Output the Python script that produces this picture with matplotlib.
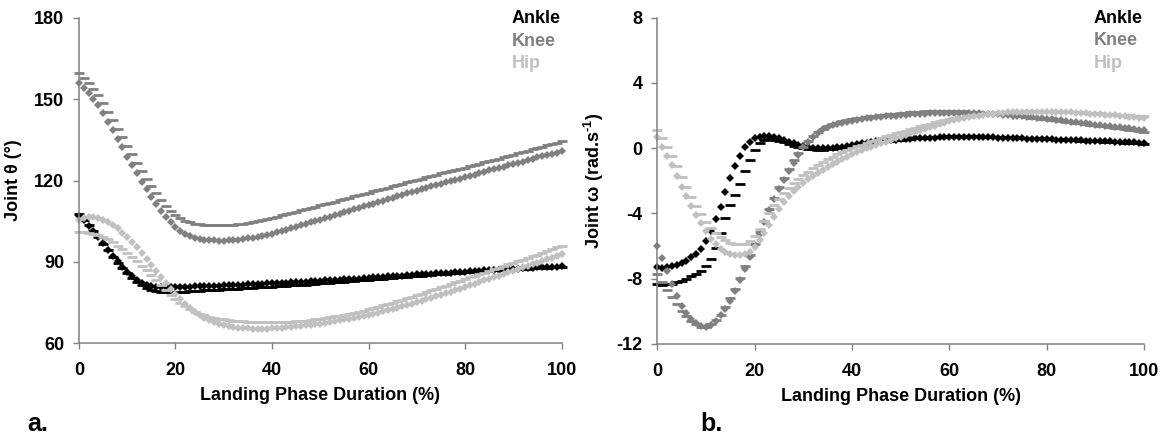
import numpy as np
import matplotlib
matplotlib.use("Agg")
import matplotlib.pyplot as plt

plt.rcParams['font.family'] = ['Liberation Sans', 'DejaVu Sans']
plt.rcParams['font.weight'] = 'bold'
plt.rcParams['mathtext.fontset'] = 'custom'
plt.rcParams['mathtext.rm'] = 'Liberation Sans:bold'
plt.rcParams['mathtext.default'] = 'rm'
plt.rcParams['axes.unicode_minus'] = False

x = np.arange(0, 101)

# ---------------- Panel a: joint angles (deg) ----------------
ankle_a_diam = [107.0, 105.3, 103.3, 101.2, 99.0, 96.8, 94.5, 92.3, 90.2, 88.2, 86.4, 84.8, 83.4, 82.3, 81.5, 81.0, 80.7, 80.5, 80.5, 80.5, 80.6,
                80.7, 80.7, 80.8, 80.9, 80.9, 81.0, 81.1, 81.1, 81.2, 81.3,
                81.4, 81.4, 81.5, 81.6, 81.7, 81.7, 81.8, 81.9, 82.0, 82.1,
                82.2, 82.3, 82.3, 82.4, 82.5, 82.6, 82.7, 82.8, 82.9, 83.0,
                83.1, 83.2, 83.3, 83.4, 83.5, 83.6, 83.7, 83.8, 84.0, 84.1,
                84.2, 84.3, 84.4, 84.6, 84.7, 84.8, 84.9, 85.0, 85.2, 85.3,
                85.4, 85.5, 85.6, 85.7, 85.8, 85.9, 86.0, 86.1, 86.3, 86.4,
                86.5, 86.6, 86.7, 86.8, 86.9, 87.0, 87.1, 87.2, 87.3, 87.4,
                87.5, 87.6, 87.7, 87.8, 87.9, 88.0, 88.1, 88.2, 88.2, 88.3]
ankle_a_dash = [107.5, 105.6, 103.5, 101.3, 99.0, 96.6, 94.2, 91.9, 89.7, 87.6, 85.7, 84.0, 82.5, 81.3, 80.3, 79.6, 79.1, 78.8, 78.7, 78.7, 78.8,
                78.9, 79.0, 79.1, 79.2, 79.3, 79.4, 79.5, 79.6, 79.7, 79.8,
                79.9, 80.0, 80.1, 80.2, 80.3, 80.4, 80.5, 80.6, 80.7, 80.8,
                80.9, 81.0, 81.2, 81.3, 81.4, 81.5, 81.6, 81.8, 81.9, 82.0,
                82.2, 82.3, 82.4, 82.6, 82.7, 82.8, 83.0, 83.1, 83.2, 83.4,
                83.5, 83.7, 83.8, 83.9, 84.1, 84.2, 84.4, 84.5, 84.6, 84.8,
                84.9, 85.0, 85.2, 85.3, 85.4, 85.6, 85.7, 85.8, 85.9, 86.1,
                86.2, 86.3, 86.4, 86.5, 86.7, 86.8, 86.9, 87.0, 87.1, 87.2,
                87.3, 87.4, 87.5, 87.6, 87.7, 87.7, 87.8, 87.9, 88.0, 88.0]
knee_a_diam = [156.0, 154.0, 152.2, 150.0, 147.9, 144.8, 141.7, 138.6, 135.3, 132.3, 128.8, 125.7, 122.7, 119.6, 116.8, 114.0, 111.3,
               108.8, 106.5, 104.5, 102.8, 101.4, 100.3, 99.5, 98.9, 98.5, 98.2, 98.0, 97.9, 97.8, 97.8,
               97.9, 98.0, 98.2, 98.4, 98.6, 98.9, 99.2, 99.6, 100.0, 100.4,
               100.9, 101.4, 101.9, 102.4, 102.9, 103.4, 104.0, 104.5, 105.1, 105.6,
               106.1, 106.7, 107.2, 107.8, 108.3, 108.9, 109.4, 109.9, 110.5, 111.0,
               111.5, 112.1, 112.6, 113.2, 113.7, 114.2, 114.7, 115.3, 115.8, 116.3,
               116.8, 117.3, 117.8, 118.3, 118.8, 119.3, 119.7, 120.2, 120.7, 121.2,
               121.7, 122.2, 122.7, 123.2, 123.7, 124.2, 124.6, 125.1, 125.6, 126.1,
               126.6, 127.0, 127.5, 128.0, 128.5, 129.0, 129.4, 129.9, 130.3, 130.8]
knee_a_dash = [159.8, 158.0, 156.0, 153.8, 151.5, 148.5, 145.4, 142.3, 139.1, 136.0, 132.7, 129.6, 126.5, 123.5, 120.6, 117.9, 115.3,
               112.9, 110.7, 108.8, 107.2, 106.0, 105.1, 104.5, 104.1, 103.8, 103.6, 103.5, 103.4, 103.4, 103.5,
               103.6, 103.7, 103.9, 104.1, 104.4, 104.7, 105.0, 105.4, 105.8, 106.2,
               106.6, 107.1, 107.5, 108.0, 108.5, 109.0, 109.4, 109.9, 110.3, 110.8,
               111.3, 111.8, 112.2, 112.7, 113.2, 113.6, 114.1, 114.6, 115.0, 115.5,
               116.0, 116.5, 116.9, 117.4, 117.9, 118.4, 118.8, 119.3, 119.8, 120.2,
               120.7, 121.2, 121.6, 122.1, 122.6, 123.0, 123.5, 123.9, 124.4, 124.8,
               125.3, 125.8, 126.2, 126.7, 127.2, 127.6, 128.1, 128.6, 129.0, 129.5,
               130.0, 130.5, 131.0, 131.5, 132.0, 132.5, 133.0, 133.5, 134.0, 134.5]
hip_a_diam = [105.5, 106.2, 106.5, 106.5, 106.2, 105.6, 104.7, 103.6, 102.3, 100.8, 99.1, 97.3, 95.3, 93.2, 91.0, 88.8, 86.5, 84.3, 82.1, 80.0, 78.0,
              76.1, 74.4, 72.9, 71.5, 70.3, 69.3, 68.4, 67.7, 67.1, 66.6, 66.2, 65.9, 65.7, 65.5, 65.4, 65.3, 65.3, 65.3, 65.3, 65.4,
              65.5, 65.6, 65.8, 65.9, 66.1, 66.3, 66.5, 66.7, 67.0, 67.2,
              67.5, 67.8, 68.1, 68.4, 68.7, 69.0, 69.3, 69.6, 70.0, 70.4,
              70.8, 71.2, 71.7, 72.1, 72.6, 73.0, 73.5, 74.0, 74.5, 75.0,
              75.6, 76.1, 76.7, 77.2, 77.8, 78.4, 78.9, 79.5, 80.1, 80.7,
              81.3, 81.9, 82.5, 83.1, 83.7, 84.3, 84.9, 85.5, 86.1, 86.7,
              87.3, 87.9, 88.5, 89.1, 89.7, 90.3, 90.9, 91.5, 92.1, 92.7]
hip_a_dash = [101.0, 100.9, 100.7, 100.4, 99.9, 99.2, 98.3, 97.2, 96.0, 94.7, 93.3, 91.8, 90.2, 88.5, 86.8, 85.0, 83.2, 81.4, 79.6, 77.9, 76.3,
              74.8, 73.5, 72.4, 71.5, 70.8, 70.2, 69.7, 69.3, 69.0, 68.7, 68.5, 68.3, 68.1, 68.0, 67.9, 67.8, 67.7, 67.7, 67.7, 67.7,
              67.7, 67.8, 67.8, 67.9, 68.0, 68.2, 68.3, 68.5, 68.7, 68.9,
              69.2, 69.5, 69.8, 70.1, 70.4, 70.8, 71.2, 71.6, 72.0, 72.5,
              72.9, 73.4, 73.9, 74.4, 74.9, 75.4, 75.9, 76.5, 77.0, 77.6,
              78.2, 78.8, 79.4, 80.0, 80.6, 81.2, 81.8, 82.4, 83.0, 83.6,
              84.2, 84.8, 85.4, 86.0, 86.6, 87.2, 87.8, 88.4, 89.0, 89.6,
              90.2, 90.8, 91.4, 92.0, 92.6, 93.2, 93.9, 94.6, 95.3, 96.0]

# ---------------- Panel b: joint angular velocity (rad/s) ----------------
ankle_b_diam = [-7.30, -7.35, -7.30, -7.25, -7.15, -7.05, -6.90, -6.70, -6.50, -6.20, -5.70, -5.05, -4.35, -3.60, -2.70, -1.85, -1.10, -0.45, 0.05, 0.40, 0.60,
                0.70, 0.75, 0.72, 0.68, 0.60, 0.50, 0.40, 0.30, 0.20, 0.12, 0.06, 0.02, 0.00, 0.00, 0.00, 0.02, 0.05, 0.10, 0.15, 0.20,
                0.25, 0.29, 0.33, 0.37, 0.41, 0.44, 0.47, 0.50, 0.52, 0.55, 0.57, 0.59, 0.61, 0.62, 0.63, 0.64, 0.65, 0.66, 0.66, 0.67,
                0.67, 0.67, 0.68, 0.68, 0.68, 0.67, 0.67, 0.66, 0.66, 0.65, 0.64, 0.63, 0.62, 0.61, 0.60, 0.59, 0.58, 0.57, 0.56, 0.55,
                0.54, 0.53, 0.52, 0.51, 0.50, 0.49, 0.48, 0.47, 0.46, 0.45, 0.44, 0.42, 0.41, 0.40, 0.38, 0.37, 0.36, 0.35, 0.34, 0.32]
ankle_b_dash = [-8.35, -8.38, -8.35, -8.30, -8.22, -8.12, -8.00, -7.85, -7.70, -7.50, -7.25, -6.80, -6.10, -5.20, -4.30, -3.50, -2.85, -2.20, -1.40, -0.70, -0.10,
                0.30, 0.50, 0.55, 0.52, 0.45, 0.35, 0.25, 0.15, 0.07, 0.00, -0.05, -0.08, -0.10, -0.10, -0.08, -0.05, 0.00, 0.05, 0.10, 0.15,
                0.20, 0.24, 0.28, 0.32, 0.36, 0.40, 0.43, 0.46, 0.49, 0.52, 0.55, 0.58, 0.60, 0.63, 0.65, 0.67, 0.68, 0.70, 0.71, 0.72,
                0.72, 0.73, 0.73, 0.72, 0.72, 0.72, 0.71, 0.71, 0.70, 0.70, 0.69, 0.68, 0.67, 0.66, 0.65, 0.64, 0.62, 0.61, 0.60, 0.58,
                0.57, 0.55, 0.54, 0.52, 0.50, 0.49, 0.47, 0.46, 0.44, 0.42, 0.41, 0.39, 0.38, 0.36, 0.35, 0.33, 0.32, 0.30, 0.29, 0.28]
knee_b_diam = [-6.00, -6.75, -7.55, -8.30, -9.05, -9.65, -10.10, -10.45, -10.70, -10.88, -10.95, -10.85, -10.60, -10.25, -9.85, -9.38, -8.78, -8.05, -7.40, -6.70, -5.95,
               -5.25, -4.50, -3.80, -3.10, -2.50, -1.95, -1.40, -0.90, -0.40, 0.05, 0.40, 0.70, 0.95, 1.15, 1.30, 1.40, 1.50, 1.57, 1.63, 1.69,
               1.74, 1.78, 1.82, 1.86, 1.89, 1.92, 1.95, 1.98, 2.00, 2.03, 2.05, 2.07, 2.09, 2.11, 2.12, 2.14, 2.15, 2.16, 2.17, 2.18,
               2.18, 2.18, 2.17, 2.16, 2.15, 2.14, 2.12, 2.10, 2.09, 2.07, 2.05, 2.02, 2.00, 1.98, 1.95, 1.92, 1.89, 1.86, 1.83, 1.80,
               1.77, 1.73, 1.70, 1.66, 1.62, 1.59, 1.55, 1.52, 1.48, 1.45, 1.42, 1.38, 1.35, 1.31, 1.28, 1.24, 1.21, 1.17, 1.14, 1.10]
knee_b_dash = [-7.70, -8.20, -8.70, -9.10, -9.55, -9.95, -10.30, -10.60, -10.80, -10.95, -10.95, -10.80, -10.55, -10.20, -9.75, -9.20, -8.60, -7.95, -7.25, -6.55, -5.85,
               -5.15, -4.45, -3.75, -3.05, -2.40, -1.80, -1.25, -0.75, -0.30, 0.10, 0.45, 0.75, 1.00, 1.20, 1.35, 1.47, 1.57, 1.65, 1.72, 1.78,
               1.83, 1.88, 1.92, 1.96, 2.00, 2.03, 2.06, 2.09, 2.12, 2.15, 2.17, 2.19, 2.21, 2.23, 2.25, 2.26, 2.27, 2.27, 2.28, 2.28,
               2.28, 2.27, 2.26, 2.24, 2.22, 2.20, 2.18, 2.16, 2.13, 2.10, 2.07, 2.04, 2.01, 1.98, 1.95, 1.92, 1.88, 1.85, 1.81, 1.78,
               1.74, 1.71, 1.67, 1.63, 1.60, 1.56, 1.53, 1.49, 1.45, 1.42, 1.38, 1.34, 1.30, 1.26, 1.22, 1.18, 1.14, 1.10, 1.05, 1.00]
hip_b_diam = [0.70, 0.10, -0.45, -1.05, -1.70, -2.35, -2.95, -3.55, -4.10, -4.60, -5.10, -5.55, -5.90, -6.15, -6.35, -6.48, -6.55, -6.57, -6.50, -6.35, -6.05,
              -5.65, -5.20, -4.70, -4.20, -3.75, -3.30, -2.95, -2.65, -2.38, -2.12, -1.90, -1.70, -1.50, -1.32, -1.15, -0.98, -0.82, -0.67, -0.52, -0.38,
              -0.25, -0.12, 0.00, 0.10, 0.20, 0.30, 0.40, 0.50, 0.60, 0.70, 0.80, 0.90, 1.00, 1.10, 1.20, 1.29, 1.38, 1.47, 1.56, 1.65,
              1.72, 1.79, 1.85, 1.90, 1.95, 2.00, 2.04, 2.08, 2.12, 2.15, 2.17, 2.19, 2.21, 2.22, 2.23, 2.24, 2.24, 2.24, 2.24, 2.24,
              2.23, 2.22, 2.21, 2.20, 2.19, 2.17, 2.16, 2.14, 2.12, 2.10, 2.08, 2.06, 2.04, 2.01, 1.99, 1.96, 1.93, 1.91, 1.88, 1.85]
hip_b_dash = [1.10, 0.60, 0.05, -0.50, -1.10, -1.75, -2.40, -3.00, -3.55, -4.05, -4.50, -4.90, -5.20, -5.45, -5.65, -5.80, -5.88, -5.90, -5.85, -5.70, -5.40,
              -4.95, -4.45, -3.95, -3.50, -3.10, -2.75, -2.45, -2.15, -1.90, -1.65, -1.43, -1.22, -1.02, -0.84, -0.67, -0.52, -0.38, -0.25, -0.12, 0.00,
              0.11, 0.22, 0.32, 0.42, 0.52, 0.62, 0.72, 0.81, 0.90, 0.99, 1.08, 1.17, 1.26, 1.34, 1.42, 1.50, 1.58, 1.65, 1.72, 1.78,
              1.84, 1.89, 1.94, 1.98, 2.02, 2.06, 2.09, 2.12, 2.15, 2.17, 2.19, 2.21, 2.22, 2.23, 2.24, 2.25, 2.25, 2.25, 2.25, 2.25,
              2.24, 2.24, 2.23, 2.22, 2.21, 2.20, 2.19, 2.18, 2.17, 2.15, 2.14, 2.12, 2.10, 2.08, 2.06, 2.04, 2.02, 2.00, 1.97, 1.95]

joints = ['Ankle', 'Knee', 'Hip']
colors = {'Ankle': '#000000', 'Knee': '#808080', 'Hip': '#c0c0c0'}
x_ticks = [0, 20, 40, 60, 80, 100]
ya_ticks = [60, 90, 120, 150, 180]
yb_ticks = [-12, -8, -4, 0, 4, 8]

panel_a = {'Ankle': (ankle_a_diam, ankle_a_dash), 'Knee': (knee_a_diam, knee_a_dash), 'Hip': (hip_a_diam, hip_a_dash)}
panel_b = {'Ankle': (ankle_b_diam, ankle_b_dash), 'Knee': (knee_b_diam, knee_b_dash), 'Hip': (hip_b_diam, hip_b_dash)}

fig = plt.figure(figsize=(11.65, 4.41), dpi=100)
ax_a = fig.add_axes([0.0678, 0.2222, 0.4142, 0.7370])
ax_b = fig.add_axes([0.5642, 0.2200, 0.4178, 0.7400])

FS = 13
spine_col = '#808080'


def draw(ax, data, yticks, ylabel, ylab_x):
    for j in joints:
        d, s = data[j]
        ax.plot(x, d, linestyle='none', marker='D', ms=4.3, mew=0, color=colors[j], clip_on=False)
        ax.plot(x, s, linestyle='none', marker='_', ms=7.0, mew=2.0, color=colors[j], clip_on=False)
    ax.set_xlim(0, 100)
    ax.set_ylim(yticks[0], yticks[-1])
    ax.set_xticks(x_ticks)
    ax.set_yticks(yticks)
    for sp in ['top', 'right']:
        ax.spines[sp].set_visible(False)
    for sp in ['left', 'bottom']:
        ax.spines[sp].set_color(spine_col)
        ax.spines[sp].set_linewidth(1.1)
    ax.tick_params(axis='both', direction='out', length=4.5, width=1.0, color=spine_col,
                   labelsize=FS, labelcolor='black')
    ax.tick_params(axis='x', pad=9)
    ax.tick_params(axis='y', pad=6)
    for lab in ax.get_xticklabels() + ax.get_yticklabels():
        lab.set_fontweight('bold')
    ax.set_xlabel('Landing Phase Duration (%)', fontsize=FS, fontweight='bold')
    ax.set_ylabel(ylabel, fontsize=FS, fontweight='bold')
    ax.xaxis.set_label_coords(0.5, -0.135)
    ax.yaxis.set_label_coords(ylab_x, 0.5)
    for j, yy in zip(joints, [0.985, 0.915, 0.845]):
        ax.text(0.897, yy, j, transform=ax.transAxes, color=colors[j], fontsize=FS,
                fontweight='bold', ha='left', va='baseline')


draw(ax_a, panel_a, ya_ticks, 'Joint θ (°)', -0.118)
draw(ax_b, panel_b, yb_ticks, r'Joint ω (rad.s$^{\text{-1}}$)', -0.105)

fig.text(0.023, 0.022, 'a.', fontsize=18, fontweight='bold', ha='left', va='baseline')
fig.text(0.601, 0.022, 'b.', fontsize=18, fontweight='bold', ha='left', va='baseline')

fig.savefig('out.png', dpi=100)
